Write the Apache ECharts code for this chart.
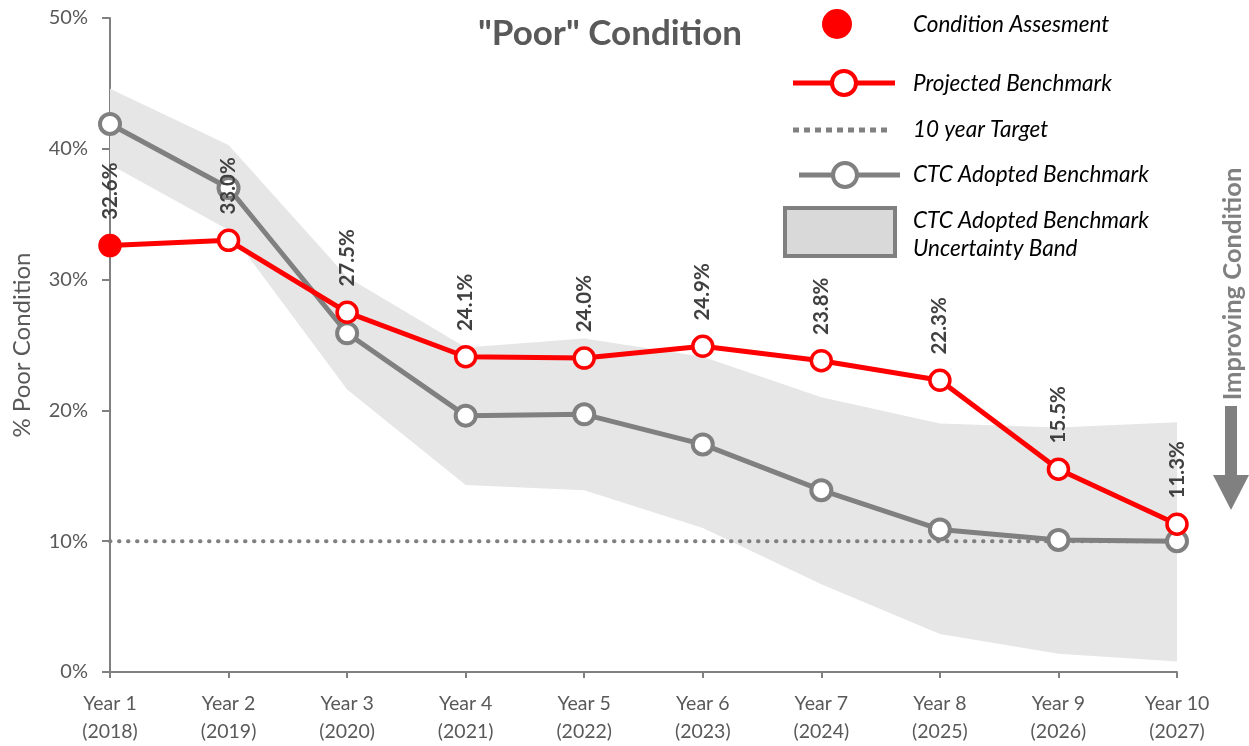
<!DOCTYPE html>
<html>
<head>
<meta charset="utf-8">
<script src="https://cdn.jsdelivr.net/npm/echarts@6/dist/echarts.min.js"></script>
<style>
html,body{margin:0;padding:0;background:#fff;}
#chart{width:1249px;height:746px;}
</style>
</head>
<body>
<div id="chart"></div>
<script>
var categories = ['Year 1\n(2018)','Year 2\n(2019)','Year 3\n(2020)','Year 4\n(2021)','Year 5\n(2022)','Year 6\n(2023)','Year 7\n(2024)','Year 8\n(2025)','Year 9\n(2026)','Year 10\n(2027)'];
var assessment = [32.6, null, null, null, null, null, null, null, null, null];
var projected = [32.6, 33.0, 27.5, 24.1, 24.0, 24.9, 23.8, 22.3, 15.5, 11.3];
var ctc = [41.9, 37.0, 25.9, 19.6, 19.7, 17.4, 13.9, 10.9, 10.1, 10.0];
var bandUpper = [44.6, 40.3, 30.2, 24.8, 25.5, 24.1, 21.0, 19.0, 18.7, 19.1];
var bandLower = [38.8, 33.8, 21.6, 14.3, 13.9, 11.0, 6.7, 2.9, 1.4, 0.8];
var target = [10, 10, 10, 10, 10, 10, 10, 10, 10, 10];
var yTicks = [0, 10, 20, 30, 40, 50];

var bandRange = bandUpper.map(function(u, i){ return +(u - bandLower[i]).toFixed(2); });

var FONT = 'Lato';
var RED = '#ff0000';
var GRAY = '#808080';
var TXT = '#595959';
var LEG = 'italic 22.5px Lato';

var chart = echarts.init(document.getElementById('chart'));
chart.setOption({
  animation: false,
  textStyle: {fontFamily: FONT},
  title: {
    text: '"Poor" Condition',
    left: 605, top: 11, textAlign: 'center',
    textStyle: {fontFamily: FONT, fontSize: 35, fontWeight: 'bold', color: TXT}
  },
  grid: {left: 110, right: 72, top: 18, bottom: 74, containLabel: false},
  xAxis: {
    type: 'category',
    data: categories,
    boundaryGap: false,
    axisLine: {lineStyle: {color: GRAY, width: 2}},
    axisTick: {show: true, length: 6, lineStyle: {color: GRAY, width: 2}},
    axisLabel: {color: TXT, fontSize: 19.5, lineHeight: 28, margin: 18, fontFamily: FONT, interval: 0},
    splitLine: {show: false}
  },
  yAxis: {
    type: 'value',
    min: yTicks[0], max: yTicks[yTicks.length - 1], interval: 10,
    name: '% Poor Condition',
    nameLocation: 'middle',
    nameGap: 76,
    nameTextStyle: {color: TXT, fontSize: 24, fontFamily: FONT},
    axisLine: {show: true, lineStyle: {color: GRAY, width: 2}},
    axisTick: {show: true, length: 8, lineStyle: {color: GRAY, width: 2}},
    axisLabel: {color: TXT, fontSize: 20, margin: 22, fontFamily: FONT, formatter: function(v){ return v + '%'; }},
    splitLine: {show: false}
  },
  series: [
    {
      name: 'bandLower', type: 'line', stack: 'band', data: bandLower,
      symbol: 'none', lineStyle: {opacity: 0}, silent: true, z: 1
    },
    {
      name: 'CTC Adopted Benchmark Uncertainty Band', type: 'line', stack: 'band', data: bandRange,
      symbol: 'none', lineStyle: {opacity: 0}, areaStyle: {color: '#e6e6e6', opacity: 1}, silent: true, z: 1
    },
    {
      name: '10 year Target', type: 'line', data: target, symbol: 'none', z: 2,
      lineStyle: {color: GRAY, width: 4, type: [0.5, 8.5], cap: 'round'}
    },
    {
      name: 'CTC Adopted Benchmark', type: 'line', data: ctc, z: 3,
      symbol: 'circle', symbolSize: 20,
      lineStyle: {color: GRAY, width: 5},
      itemStyle: {color: '#ffffff', borderColor: GRAY, borderWidth: 4}
    },
    {
      name: 'Projected Benchmark', type: 'line', data: projected, z: 4,
      symbol: 'circle', symbolSize: 20,
      lineStyle: {color: RED, width: 5},
      itemStyle: {color: '#ffffff', borderColor: RED, borderWidth: 3.5},
      label: {
        show: true, position: 'top', distance: 14, rotate: 90,
        align: 'left', verticalAlign: 'middle',
        color: '#404040', fontSize: 20.5, fontWeight: 'bold', fontFamily: FONT,
        formatter: function(p){ return p.value.toFixed(1) + '%'; }
      }
    },
    {
      name: 'Condition Assesment', type: 'line', data: assessment, z: 5,
      symbol: 'circle', symbolSize: 22, showSymbol: true,
      lineStyle: {opacity: 0},
      itemStyle: {color: RED}
    }
  ],
  graphic: [
    {type: 'circle', shape: {cx: 837, cy: 24, r: 15}, style: {fill: RED}},
    {type: 'text', x: 913, y: 25, style: {text: 'Condition Assesment', fill: '#000', font: LEG, verticalAlign: 'middle'}},
    {type: 'line', shape: {x1: 793, y1: 83, x2: 895, y2: 83}, style: {stroke: RED, lineWidth: 5}},
    {type: 'circle', shape: {cx: 844, cy: 83, r: 12}, style: {fill: '#fff', stroke: RED, lineWidth: 4}},
    {type: 'text', x: 913, y: 84, style: {text: 'Projected Benchmark', fill: '#000', font: LEG, verticalAlign: 'middle'}},
    {type: 'line', shape: {x1: 793, y1: 130, x2: 890, y2: 130}, style: {stroke: GRAY, lineWidth: 5, lineDash: [6, 5]}},
    {type: 'text', x: 913, y: 130, style: {text: '10 year Target', fill: '#000', font: LEG, verticalAlign: 'middle'}},
    {type: 'line', shape: {x1: 799, y1: 175, x2: 900, y2: 175}, style: {stroke: GRAY, lineWidth: 5}},
    {type: 'circle', shape: {cx: 845, cy: 175, r: 12}, style: {fill: '#fff', stroke: GRAY, lineWidth: 4}},
    {type: 'text', x: 913, y: 175, style: {text: 'CTC Adopted Benchmark', fill: '#000', font: LEG, verticalAlign: 'middle'}},
    {type: 'rect', shape: {x: 785, y: 208, width: 110, height: 48}, style: {fill: '#d9d9d9', stroke: GRAY, lineWidth: 4}},
    {type: 'text', x: 913, y: 221, style: {text: 'CTC Adopted Benchmark', fill: '#000', font: LEG, verticalAlign: 'middle'}},
    {type: 'text', x: 913, y: 249, style: {text: 'Uncertainty Band', fill: '#000', font: LEG, verticalAlign: 'middle'}},
    {type: 'text', x: 1233, y: 284, rotation: Math.PI / 2, style: {text: 'Improving Condition', fill: GRAY, font: 'bold 25.5px Lato', align: 'center', verticalAlign: 'middle'}},
    {type: 'rect', shape: {x: 1225, y: 406, width: 12, height: 70}, style: {fill: GRAY}},
    {type: 'polygon', shape: {points: [[1213, 475], [1249, 475], [1231, 510]]}, style: {fill: GRAY}}
  ]
});
</script>
</body>
</html>
